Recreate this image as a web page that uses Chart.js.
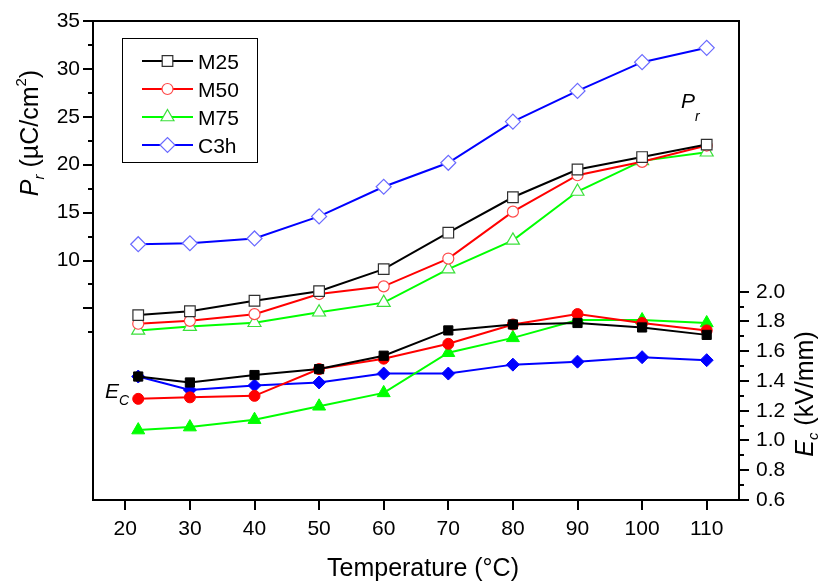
<!DOCTYPE html>
<html>
<head>
<meta charset="utf-8">
<script src="https://cdn.jsdelivr.net/npm/chart.js@4.4.1/dist/chart.umd.min.js"></script>
<style>
  html, body { margin: 0; padding: 0; background: #fff; }
  #wrap { width: 823px; height: 583px; }
</style>
</head>
<body>
<div id="wrap"><canvas id="chart"></canvas></div>
<script>
// temperature (°C) of each measurement
var temps = [22, 30, 40, 50, 60, 70, 80, 90, 100, 110];
var names = ['M25', 'M50', 'M75', 'C3h'];

// remanent polarization Pr (µC/cm²)
var prM25 = [4.3, 4.7, 5.8, 6.8, 9.1, 12.9, 16.6, 19.5, 20.8, 22.1];
var prM50 = [3.4, 3.7, 4.4, 6.5, 7.3, 10.2, 15.1, 18.9, 20.3, 22.0];
var prM75 = [2.7, 3.1, 3.5, 4.6, 5.6, 9.1, 12.1, 17.2, 20.4, 21.3];
var prC3h = [11.7, 11.8, 12.3, 14.6, 17.7, 20.2, 24.5, 27.7, 30.7, 32.2];

// coercive field Ec (kV/mm)
var ecM25 = [1.43, 1.39, 1.44, 1.48, 1.57, 1.74, 1.78, 1.79, 1.76, 1.71];
var ecM50 = [1.28, 1.29, 1.30, 1.48, 1.55, 1.65, 1.78, 1.85, 1.79, 1.74];
var ecM75 = [1.07, 1.09, 1.14, 1.23, 1.32, 1.59, 1.69, 1.81, 1.81, 1.79];
var ecC3h = [1.43, 1.34, 1.37, 1.39, 1.45, 1.45, 1.51, 1.53, 1.56, 1.54];

// axis ticks
var xTicks = [20, 30, 40, 50, 60, 70, 80, 90, 100, 110];
var prTicks = [5, 10, 15, 20, 25, 30, 35];
var prMinor = [2.5, 7.5, 12.5, 17.5, 22.5, 27.5, 32.5];
var ecTicks = [0.6, 0.8, 1.0, 1.2, 1.4, 1.6, 1.8, 2.0];
var ecMinor = [0.7, 0.9, 1.1, 1.3, 1.5, 1.7, 1.9];

var prSets = [prM25, prM50, prM75, prC3h];
var ecSets = [ecM25, ecM50, ecM75, ecC3h];

var FONT = '"Liberation Sans", Arial, sans-serif';
var colors = ['#000000', '#ff0000', '#00ff00', '#0000ff'];
var openEdge = ['#303030', '#ff4a4a', '#3ae03a', '#6a6aff'];
var shapes = ['rect', 'circle', 'triangle', 'rectRot'];
var openRadius = [7.5, 5.5, 7.5, 7.5];
var fillRadius = [6.5, 5.5, 7.5, 6.5];

function pts(vals) {
  return temps.map(function (t, i) { return { x: t, y: vals[i] }; });
}

var datasets = [];
for (var i = 0; i < 4; i++) {
  datasets.push({
    label: names[i] + ' Pr',
    data: pts(prSets[i]),
    yAxisID: 'y',
    borderColor: colors[i],
    borderWidth: 2,
    pointStyle: shapes[i],
    pointRadius: openRadius[i],
    pointBackgroundColor: '#ffffff',
    pointBorderColor: openEdge[i],
    pointBorderWidth: 1.2
  });
}
for (var k = 0; k < 4; k++) {
  datasets.push({
    label: names[k] + ' Ec',
    data: pts(ecSets[k]),
    yAxisID: 'y2',
    borderColor: colors[k],
    borderWidth: 2,
    pointStyle: shapes[k],
    pointRadius: fillRadius[k],
    pointBackgroundColor: colors[k],
    pointBorderColor: colors[k],
    pointBorderWidth: 1
  });
}

function tickList(list) {
  return function (scale) {
    scale.ticks = list.map(function (v) { return { value: v }; });
  };
}

// draw a marker with the library helper
function marker(ctx, style, r, fill, stroke, x, y) {
  ctx.save();
  ctx.fillStyle = fill;
  ctx.strokeStyle = stroke;
  ctx.lineWidth = 1.2;
  Chart.helpers.drawPoint(ctx, { pointStyle: style, radius: r, borderWidth: 1.2, rotation: 0 }, x, y);
  ctx.restore();
}

// text with a subscript/superscript piece; parts = [[text, size, italic, dy], ...]
function richText(ctx, parts, x, y, align) {
  var total = 0, widths = [];
  parts.forEach(function (p) {
    ctx.font = (p[2] ? 'italic ' : '') + p[1] + 'px ' + FONT;
    var w = ctx.measureText(p[0]).width;
    widths.push(w);
    total += w;
  });
  var cx = align === 'center' ? x - total / 2 : x;
  parts.forEach(function (p, j) {
    ctx.font = (p[2] ? 'italic ' : '') + p[1] + 'px ' + FONT;
    ctx.fillText(p[0], cx, y + p[3]);
    cx += widths[j];
  });
}

var decor = {
  id: 'decor',
  afterDraw: function (chart) {
    var ctx = chart.ctx, a = chart.chartArea;
    var sy = chart.scales.y, sy2 = chart.scales.y2;
    ctx.save();
    ctx.strokeStyle = '#000';
    ctx.fillStyle = '#000';
    ctx.lineWidth = 2;

    // top frame line
    ctx.beginPath();
    ctx.moveTo(a.left - 1, a.top);
    ctx.lineTo(a.right + 1, a.top);
    ctx.stroke();

    // minor ticks
    ctx.beginPath();
    prMinor.forEach(function (v) {
      var py = Math.round(sy.getPixelForValue(v));
      ctx.moveTo(a.left, py);
      ctx.lineTo(a.left - 5, py);
    });
    ecMinor.forEach(function (v) {
      var py = Math.round(sy2.getPixelForValue(v));
      ctx.moveTo(a.right, py);
      ctx.lineTo(a.right + 5, py);
    });
    ctx.stroke();

    // legend box
    ctx.lineWidth = 1;
    ctx.strokeRect(122.5, 38.5, 135, 124);
    names.forEach(function (n, j) {
      var ly = 61 + j * 28;
      ctx.strokeStyle = colors[j];
      ctx.lineWidth = 2;
      ctx.beginPath();
      ctx.moveTo(142, ly);
      ctx.lineTo(193, ly);
      ctx.stroke();
      marker(ctx, shapes[j], openRadius[j], '#ffffff', openEdge[j], 167.5, ly);
      ctx.fillStyle = '#000';
      ctx.font = '21px ' + FONT;
      ctx.textAlign = 'left';
      ctx.textBaseline = 'alphabetic';
      ctx.fillText(n, 198, ly + 8);
    });

    ctx.fillStyle = '#000';
    ctx.textBaseline = 'alphabetic';
    ctx.textAlign = 'left';

    // curve group labels
    richText(ctx, [['P', 21, true, 0], ['r', 14, true, 13]], 681, 108, 'left');
    richText(ctx, [['E', 21, true, 0], ['C', 14, true, 7]], 105, 398, 'left');

    // x axis title
    richText(ctx, [['Temperature (°C)', 25, false, 0]], 423, 576, 'center');

    // left axis title
    ctx.save();
    ctx.translate(38, 133);
    ctx.rotate(-Math.PI / 2);
    richText(ctx, [['P', 25, true, 0], ['r', 15, true, 6], [' (µC/cm', 25, false, 0], ['2', 15, false, -12], [')', 25, false, 0]], 0, 0, 'center');
    ctx.restore();

    // right axis title
    ctx.save();
    ctx.translate(813, 394);
    ctx.rotate(-Math.PI / 2);
    richText(ctx, [['E', 25, true, 0], ['c', 15, true, 5], [' (kV/mm)', 25, false, 0]], 0, 0, 'center');
    ctx.restore();

    ctx.restore();
  }
};

var axisGrid = { drawOnChartArea: false, drawTicks: true, tickLength: 10, color: '#000', lineWidth: 2 };
var axisBorder = { display: true, color: '#000', width: 2 };
var tickFont = { family: FONT, size: 21 };

new Chart(document.getElementById('chart').getContext('2d'), {
  type: 'line',
  data: { datasets: datasets },
  plugins: [decor],
  options: {
    responsive: true,
    maintainAspectRatio: false,
    animation: false,
    layout: { padding: { top: 21, left: 0, right: 0, bottom: 0 } },
    plugins: { legend: { display: false }, tooltip: { enabled: false } },
    elements: { line: { tension: 0 } },
    scales: {
      x: {
        type: 'linear',
        min: 15,
        max: 115,
        afterBuildTicks: tickList(xTicks),
        afterFit: function (s) { s.height = 83; },
        grid: axisGrid,
        border: axisBorder,
        ticks: { font: tickFont, color: '#000', padding: 7, autoSkip: false, maxRotation: 0 }
      },
      y: {
        type: 'linear',
        position: 'left',
        min: -15,
        max: 35,
        afterBuildTicks: tickList(prTicks),
        afterFit: function (s) { s.width = 93; },
        grid: axisGrid,
        border: axisBorder,
        ticks: {
          font: tickFont, color: '#000', padding: 3, autoSkip: false,
          callback: function (v) { return v >= 10 ? String(v) : ''; }
        }
      },
      y2: {
        type: 'linear',
        position: 'right',
        min: 0.6,
        max: 3.82,
        afterBuildTicks: tickList(ecTicks),
        afterFit: function (s) { s.width = 84; },
        grid: axisGrid,
        border: axisBorder,
        ticks: {
          font: tickFont, color: '#000', padding: 7, autoSkip: false,
          callback: function (v) { return v.toFixed(1); }
        }
      }
    }
  }
});
</script>
</body>
</html>
